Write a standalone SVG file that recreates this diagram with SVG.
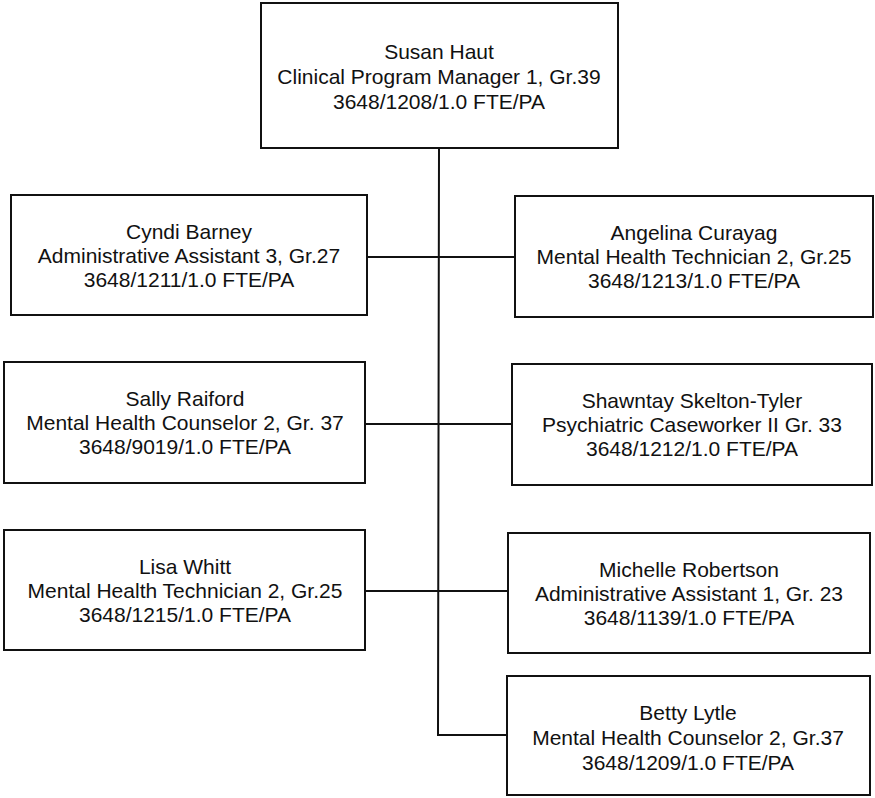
<svg xmlns="http://www.w3.org/2000/svg" width="875" height="798" viewBox="0 0 875 798">
<style>
.box{fill:#fff;stroke:#111;stroke-width:2}
.conn{fill:none;stroke:#111;stroke-width:2}
text{font-family:"Liberation Sans",Arial,sans-serif;font-size:21px;fill:#111;text-anchor:middle}
</style>
<rect width="875" height="798" fill="#fff"/>
<g id="connectors">
<path class="conn" d="M439,148 L438,735 L507,735"/>
<line class="conn" x1="367" y1="257" x2="515" y2="257"/>
<line class="conn" x1="365" y1="424" x2="512" y2="424"/>
<line class="conn" x1="365" y1="591" x2="508" y2="591"/>
</g>
<g id="susan">
<rect class="box" x="261" y="3" width="357" height="145"/>
<text><tspan x="439" y="59">Susan Haut</tspan><tspan x="439" y="84">Clinical Program Manager 1, Gr.39</tspan><tspan x="439" y="109">3648/1208/1.0 FTE/PA</tspan></text>
</g>
<g id="cyndi">
<rect class="box" x="11" y="195" width="356" height="120"/>
<text><tspan x="189" y="239">Cyndi Barney</tspan><tspan x="189" y="263">Administrative Assistant 3, Gr.27</tspan><tspan x="189" y="287">3648/1211/1.0 FTE/PA</tspan></text>
</g>
<g id="angelina">
<rect class="box" x="515" y="196" width="358" height="121"/>
<text><tspan x="694" y="240">Angelina Curayag</tspan><tspan x="694" y="264">Mental Health Technician 2, Gr.25</tspan><tspan x="694" y="288">3648/1213/1.0 FTE/PA</tspan></text>
</g>
<g id="sally">
<rect class="box" x="4" y="362" width="361" height="121"/>
<text><tspan x="185" y="406">Sally Raiford</tspan><tspan x="185" y="430">Mental Health Counselor 2, Gr. 37</tspan><tspan x="185" y="454">3648/9019/1.0 FTE/PA</tspan></text>
</g>
<g id="shawntay">
<rect class="box" x="512" y="364" width="360" height="121"/>
<text><tspan x="692" y="408">Shawntay Skelton-Tyler</tspan><tspan x="692" y="432">Psychiatric Caseworker II Gr. 33</tspan><tspan x="692" y="456">3648/1212/1.0 FTE/PA</tspan></text>
</g>
<g id="lisa">
<rect class="box" x="4" y="530" width="361" height="120"/>
<text><tspan x="185" y="574">Lisa Whitt</tspan><tspan x="185" y="598">Mental Health Technician 2, Gr.25</tspan><tspan x="185" y="622">3648/1215/1.0 FTE/PA</tspan></text>
</g>
<g id="michelle">
<rect class="box" x="508" y="533" width="362" height="120"/>
<text><tspan x="689" y="577">Michelle Robertson</tspan><tspan x="689" y="601">Administrative Assistant 1, Gr. 23</tspan><tspan x="689" y="625">3648/1139/1.0 FTE/PA</tspan></text>
</g>
<g id="betty">
<rect class="box" x="507" y="676" width="363" height="119"/>
<text><tspan x="688" y="720">Betty Lytle</tspan><tspan x="688" y="745">Mental Health Counselor 2, Gr.37</tspan><tspan x="688" y="770">3648/1209/1.0 FTE/PA</tspan></text>
</g>
</svg>
